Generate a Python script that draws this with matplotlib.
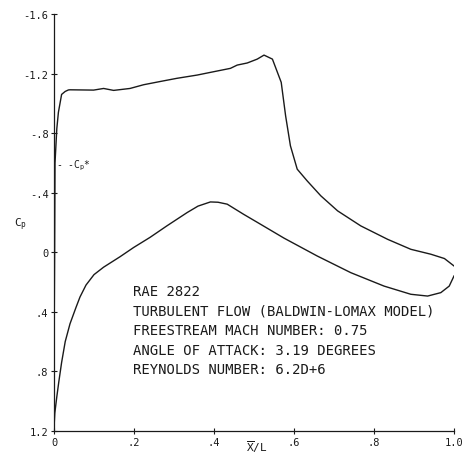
import matplotlib.pyplot as plt

# RAE 2822, computed pressure distribution
x_upper = [0.0, 0.0005, 0.0015, 0.0025, 0.007, 0.011, 0.019, 0.028, 0.036, 0.04,
           0.07, 0.099, 0.124, 0.149, 0.19, 0.224, 0.266, 0.307, 0.358, 0.391,
           0.441, 0.458, 0.483, 0.508, 0.525, 0.546, 0.568, 0.579, 0.591, 0.608,
           0.633, 0.667, 0.709, 0.767, 0.834, 0.892, 0.942, 0.976, 1.0]
cp_upper = [1.15, 0.5, 0.0, -0.6, -0.83, -0.94, -1.06, -1.08, -1.09, -1.091,
            -1.09, -1.089, -1.10, -1.087, -1.10, -1.125, -1.147, -1.168, -1.19, -1.208,
            -1.235, -1.257, -1.271, -1.297, -1.324, -1.297, -1.141, -0.916, -0.715, -0.558,
            -0.479, -0.379, -0.278, -0.177, -0.087, -0.02, 0.013, 0.042, 0.092]

x_lower = [0.0, 0.002, 0.007, 0.012, 0.019, 0.028, 0.04, 0.055, 0.065, 0.08,
           0.10, 0.124, 0.165, 0.199, 0.24, 0.282, 0.333, 0.36, 0.391, 0.41,
           0.433, 0.474, 0.512, 0.575, 0.658, 0.742, 0.825, 0.892, 0.934, 0.967,
           0.988, 1.0]
cp_lower = [1.18, 1.08, 0.97, 0.87, 0.74, 0.60, 0.48, 0.37, 0.30, 0.22,
            0.15, 0.10, 0.03, -0.032, -0.10, -0.177, -0.267, -0.31, -0.338, -0.336,
            -0.323, -0.255, -0.195, -0.095, 0.025, 0.137, 0.227, 0.282, 0.294, 0.271,
            0.227, 0.159]

cp_star = -0.59

xticks = [0, 0.2, 0.4, 0.6, 0.8, 1.0]
xtick_labels = ['0', '.2', '.4', '.6', '.8', '1.0']
yticks = [-1.6, -1.2, -0.8, -0.4, 0, 0.4, 0.8, 1.2]
ytick_labels = ['-1.6', '-1.2', '-.8', '-.4', '0', '.4', '.8', '1.2']

info = ['RAE 2822',
        'TURBULENT FLOW (BALDWIN-LOMAX MODEL)',
        'FREESTREAM MACH NUMBER: 0.75',
        'ANGLE OF ATTACK: 3.19 DEGREES',
        'REYNOLDS NUMBER: 6.2D+6']

plt.rcParams['font.family'] = 'DejaVu Sans Mono'
plt.rcParams['mathtext.fontset'] = 'dejavusans'
ink = '#1a1a1a'

fig = plt.figure(figsize=(4.66, 4.60), dpi=100)
ax = fig.add_axes([0.1159, 0.0609, 0.8584, 0.9065])

ax.plot(x_upper, cp_upper, color=ink, lw=1.0)
ax.plot(x_lower, cp_lower, color=ink, lw=1.0)

ax.set_xlim(0, 1.0)
ax.set_ylim(1.2, -1.6)
ax.set_xticks(xticks)
ax.set_xticklabels(xtick_labels)
ax.set_yticks(yticks)
ax.set_yticklabels(ytick_labels)
ax.tick_params(direction='inout', length=4, width=0.8, labelsize=7.5,
               colors=ink, pad=2)
for s in ['top', 'right']:
    ax.spines[s].set_visible(False)
for s in ['left', 'bottom']:
    ax.spines[s].set_color(ink)
    ax.spines[s].set_linewidth(0.9)

# x label placed by hand so it stays inside the figure
fig.text(257 / 466, 5 / 460, r'$\overline{\mathregular{X}}$/L', fontsize=8,
         color=ink, ha='center', va='bottom')
ax.text(-0.1, -0.19, r'C$_\mathregular{p}$', fontsize=8, color=ink,
        ha='left', va='center', clip_on=False)
ax.text(0.004, cp_star, r'- -C$_\mathregular{p}$*', fontsize=7, color=ink,
        ha='left', va='center')

for i, line in enumerate(info):
    ax.text(0.198, 0.289 + i * 0.131, line, fontsize=10, color=ink,
            ha='left', va='baseline')

fig.savefig('out.png', dpi=100)
